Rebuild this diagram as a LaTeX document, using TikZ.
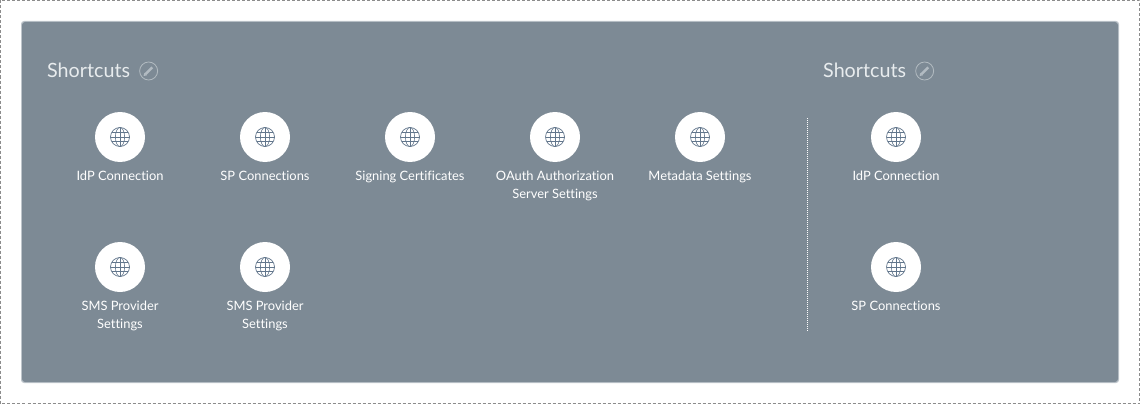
\documentclass[tikz,border=0pt]{standalone}
\usepackage{xcolor}
\usepackage{fontspec}
\setmainfont{Lato}[Ligatures=NoCommon]
\usetikzlibrary{positioning}
\definecolor{panelgray}{RGB}{125,138,149}
\definecolor{paneledge}{RGB}{190,197,203}
\definecolor{framegray}{RGB}{140,140,140}
\definecolor{globeblue}{RGB}{98,118,140}
\definecolor{softwhite}{RGB}{232,236,238}
\tikzset{
  shortcut/.style={circle, fill=white, minimum size=50pt, inner sep=0pt, outer sep=0pt},
  tag/.style={below=9pt of #1, text=white, align=center, font=\fontsize{12.9}{18}\selectfont,
    inner sep=0pt, execute at begin node={\rule{0pt}{9pt}}},
  heading/.style={text=softwhite, font=\fontsize{19.7}{22}\selectfont, inner sep=0pt, anchor=west},
  editbadge/.style={circle, draw=softwhite!50!panelgray, line width=0.8pt, minimum size=18pt, inner sep=0pt, yshift=-1pt},
  globe/.pic={
    \draw[globeblue, line width=0.7pt] (0,0) circle (9.5pt);
    \draw[globeblue, line width=0.6pt] (0,0) ellipse (4.6pt and 9.5pt);
    \draw[globeblue, line width=0.6pt] (0,-9.5pt) -- (0,9.5pt);
    \draw[globeblue, line width=0.6pt] (-9.5pt,0) -- (9.5pt,0);
    \draw[globeblue, line width=0.6pt] (-8.2pt,4.6pt) -- (8.2pt,4.6pt);
    \draw[globeblue, line width=0.6pt] (-8.2pt,-4.6pt) -- (8.2pt,-4.6pt);
  },
  pencil/.pic={
    \draw[softwhite!50!panelgray, line width=2.6pt] (-3.2pt,-3.2pt) -- (3.6pt,3.6pt);
    \fill[softwhite!50!panelgray] (-5pt,-5pt) -- (-4.4pt,-1.8pt) -- (-1.8pt,-4.4pt) -- cycle;
  }
}
\begin{document}
\begin{tikzpicture}[x=1pt, y=-1pt, node distance=95pt]
  \useasboundingbox (0,0) rectangle (1140,404);
  \draw[framegray, line width=0.8pt, dash pattern=on 3pt off 2pt] (0.5,0.5) rectangle (1139.5,403.5);
  \fill[paneledge, rounded corners=3pt] (21,21) rectangle (1119,383);
  \fill[panelgray, rounded corners=3pt] (22,22) rectangle (1118,382);

  % left block
  \node[heading] (head1) at (47,70) {Shortcuts};
  \node[editbadge, right=9pt of head1] (edit1) {};
  \node[shortcut] (idp) at (120,137) {};
  \node[shortcut, right=of idp] (sp) {};
  \node[shortcut, right=of sp] (sign) {};
  \node[shortcut, right=of sign] (oauth) {};
  \node[shortcut, right=of oauth] (meta) {};
  \node[shortcut, below=80pt of idp] (sms1) {};
  \node[shortcut, right=of sms1] (sms2) {};

  \node[tag=idp] (idplabel) {IdP Connection};
  \node[tag=sp] (splabel) {SP Connections};
  \node[tag=sign] (signlabel) {Signing Certificates};
  \node[tag=oauth] (oauthlabel) {OAuth Authorization\\Server Settings};
  \node[tag=meta] (metalabel) {Metadata Settings};
  \node[tag=sms1] (sms1label) {SMS Provider\\Settings};
  \node[tag=sms2] (sms2label) {SMS Provider\\Settings};

  % right block
  \node[heading] (head2) at (823,70) {Shortcuts};
  \node[editbadge, right=9pt of head2] (edit2) {};
  \node[shortcut] (idpb) at (896,137) {};
  \node[shortcut, below=80pt of idpb] (spb) {};
  \node[tag=idpb] (idpblabel) {IdP Connection};
  \node[tag=spb] (spblabel) {SP Connections};

  \coordinate (sepa) at (807.5,118);
  \coordinate (sepb) at (807.5,332);
  \draw[white, line width=1pt, dash pattern=on 1pt off 1pt] (sepa) -- (sepb);

  \foreach \n in {idp,sp,sign,oauth,meta,sms1,sms2,idpb,spb}
    \pic at (\n) {globe};
  \foreach \n in {edit1,edit2}
    \pic at (\n) {pencil};
\end{tikzpicture}
\end{document}
